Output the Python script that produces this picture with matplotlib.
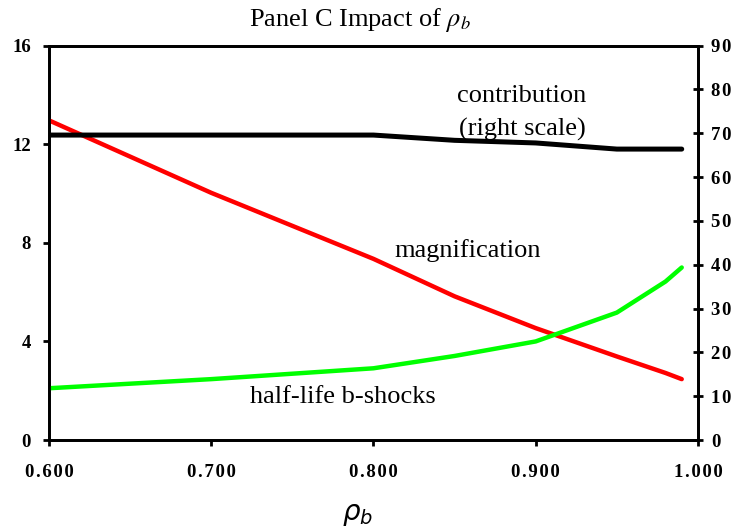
import matplotlib
matplotlib.use("Agg")
import matplotlib.pyplot as plt

# values
rho = [0.60, 0.70, 0.80, 0.85, 0.90, 0.95, 0.98, 0.99]
magnification = [12.97, 10.03, 7.35, 5.83, 4.54, 3.39, 2.72, 2.47]   # left scale
half_life = [2.10, 2.47, 2.91, 3.41, 4.00, 5.17, 6.43, 7.00]          # left scale
contribution = [69.6, 69.6, 69.6, 68.4, 67.8, 66.4, 66.4, 66.4]      # right scale

x_ticks = [0.6, 0.7, 0.8, 0.9, 1.0]
left_ticks = [0, 4, 8, 12, 16]
right_ticks = [0, 10, 20, 30, 40, 50, 60, 70, 80, 90]

serif = ["Liberation Serif", "DejaVu Serif"]
gap = "\u200a"   # hair space, the reference labels are letter-spaced

fig = plt.figure(figsize=(7.33, 5.30), dpi=100)
ax = fig.add_axes([0.0668, 0.1698, 0.8854, 0.744])
ax2 = ax.twinx()

ax.plot(rho, magnification, color="#ff0000", lw=3.2, solid_capstyle="round", zorder=3)
ax.plot(rho, half_life, color="#00ff00", lw=3.2, solid_capstyle="round", zorder=4)
ax2.plot(rho, contribution, color="black", lw=3.6, solid_capstyle="round")

ax.set_xlim(0.6, 1.0)
ax.set_ylim(0, 16)
ax2.set_ylim(0, 90)

ax.set_xticks(x_ticks)
ax.set_xticklabels([gap.join(f"{v:.3f}") for v in x_ticks])
ax.set_yticks(left_ticks)
ax.set_yticklabels([str(v) for v in left_ticks])
ax2.set_yticks(right_ticks)
ax2.set_yticklabels([gap.join(str(v)) for v in right_ticks])

for a in (ax, ax2):
    for s in a.spines.values():
        s.set_linewidth(2.0)
        s.set_color("black")
    for lab in a.get_xticklabels() + a.get_yticklabels():
        lab.set_family(serif)
        lab.set_fontweight("bold")
        lab.set_fontsize(13.5)

ax.tick_params(axis="x", direction="out", length=4, width=2, pad=13)
ax.tick_params(axis="y", direction="out", length=4, width=2, pad=9)
ax2.tick_params(axis="y", direction="inout", length=7, width=2, pad=6)

fig.text(0.491, 0.962, r"Panel C Impact of $\rho_b$", ha="center", va="center",
         fontsize=19, family=serif, math_fontfamily="stix")
fig.text(0.488, 0.03, r"$\rho_b$", ha="center", va="center", fontsize=20,
         math_fontfamily="dejavusans")

ax.text(0.8915, 13.95, "contribution", ha="center", va="center", fontsize=19, family=serif)
ax.text(0.8915, 12.6, "(right scale)", ha="center", va="center", fontsize=19, family=serif)
ax.text(0.858, 7.7, "magnification", ha="center", va="center", fontsize=19, family=serif)
ax.text(0.781, 1.75, "half-life b-shocks", ha="center", va="center", fontsize=19, family=serif)

fig.savefig("out.png", dpi=100)
